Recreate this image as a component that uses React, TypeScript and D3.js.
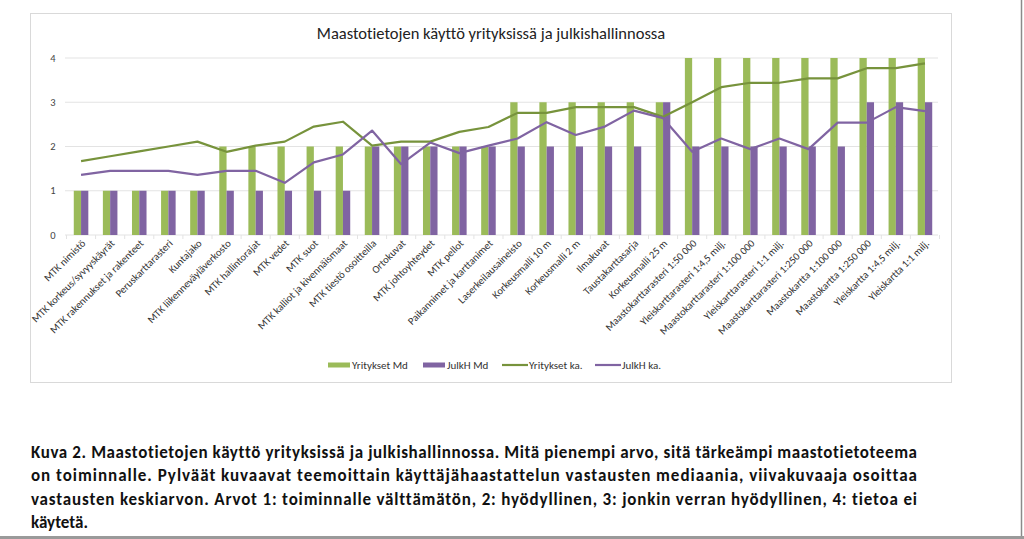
import React from "react";
import * as d3 from "d3";

const categories = [
  "MTK nimistö",
  "MTK korkeus/syvyyskäyrät",
  "MTK rakennukset ja rakenteet",
  "Peruskarttarasteri",
  "Kuntajako",
  "MTK liikenneväyläverkosto",
  "MTK hallintorajat",
  "MTK vedet",
  "MTK suot",
  "MTK kalliot ja kivennäismaat",
  "MTK tiestö osoitteilla",
  "Ortokuvat",
  "MTK johtoyhteydet",
  "MTK pellot",
  "Paikannimet ja karttanimet",
  "Laserkeilausaineisto",
  "Korkeusmalli 10 m",
  "Korkeusmalli 2 m",
  "Ilmakuvat",
  "Taustakarttasarja",
  "Korkeusmalli 25 m",
  "Maastokarttarasteri 1:50 000",
  "Yleiskarttarasteri 1:4,5 milj.",
  "Maastokarttarasteri 1:100 000",
  "Yleiskarttarasteri 1:1 milj.",
  "Maastokarttarasteri 1:250 000",
  "Maastokartta 1:100 000",
  "Maastokartta 1:250 000",
  "Yleiskartta 1:4,5 milj.",
  "Yleiskartta 1:1 milj.",
];

const yritMd = [1, 1, 1, 1, 1, 2, 2, 2, 2, 2, 2, 2, 2, 2, 2, 3, 3, 3, 3, 3, 3, 4, 4, 4, 4, 4, 4, 4, 4, 4];
const julkMd = [1, 1, 1, 1, 1, 1, 1, 1, 1, 1, 2, 2, 2, 2, 2, 2, 2, 2, 2, 2, 3, 2, 2, 2, 2, 2, 2, 3, 3, 3];
const yritKa = [1.67, 1.78, 1.89, 2.0, 2.11, 1.88, 2.02, 2.11, 2.45, 2.56, 2.02, 2.11, 2.11, 2.33, 2.44, 2.76, 2.76, 2.89, 2.89, 2.89, 2.67, 3.0, 3.34, 3.44, 3.44, 3.54, 3.54, 3.77, 3.77, 3.88];
const julkKa = [1.36, 1.45, 1.45, 1.45, 1.36, 1.45, 1.45, 1.18, 1.64, 1.82, 2.36, 1.6, 2.09, 1.85, 2.02, 2.18, 2.55, 2.26, 2.45, 2.81, 2.64, 1.88, 2.18, 1.94, 2.18, 1.94, 2.54, 2.54, 2.89, 2.8];

const yTicks = [0, 1, 2, 3, 4];
const title = "Maastotietojen käyttö yrityksissä ja julkishallinnossa";
const legendItems = [
  { label: "Yritykset Md", kind: "bar", color: "#9BBB59" },
  { label: "JulkH Md", kind: "bar", color: "#8064A2" },
  { label: "Yritykset ka.", kind: "line", color: "#77933C" },
  { label: "JulkH ka.", kind: "line", color: "#8064A2" },
];
const captionLines = [
  "Kuva 2. Maastotietojen käyttö yrityksissä ja julkishallinnossa. Mitä pienempi arvo, sitä tärkeämpi maastotietoteema",
  "on toiminnalle. Pylväät kuvaavat teemoittain käyttäjähaastattelun vastausten mediaania, viivakuvaaja osoittaa",
  "vastausten keskiarvon. Arvot 1: toiminnalle välttämätön, 2: hyödyllinen, 3: jonkin verran hyödyllinen, 4: tietoa ei",
  "käytetä.",
];

const GREEN = "#9BBB59";
const PURPLE = "#8064A2";
const GREEN_LINE = "#77933C";
const FONT = "Carlito, Calibri, 'Open Sans', 'Noto Sans', sans-serif";

export default function App() {
  const W = 1024;
  const H = 539;
  const x = d3.scaleBand<string>().domain(categories).range([66.5, 939.5]).paddingInner(0).paddingOuter(0);
  const bw = x.bandwidth();
  const sub = d3.scaleBand<string>().domain(["y", "j"]).range([bw * 0.25, bw * 0.75]).padding(0);
  const y = d3.scaleLinear().domain([0, 4]).range([235, 58]);
  const cx = (i: number) => (x(categories[i]) as number) + bw / 2;
  const line = d3
    .line<number>()
    .x((_, i) => cx(i))
    .y((d) => y(d));

  const legendX = [328, 423, 502, 595];

  return (
    <svg
      width={W}
      height={H}
      style={{ position: "absolute", left: 0, top: 0, background: "#fff", fontVariantLigatures: "none" }}
      fontFamily={FONT}
    >
      <rect x={0} y={0} width={W} height={H} fill="#fff" />
      {/* chart frame */}
      <rect x={30.5} y={13.5} width={921} height={369} fill="none" stroke="#D9D9D9" strokeWidth={1} />
      <text x={491} y={39} textAnchor="middle" fontSize={16.5} fill="#222">
        {title}
      </text>
      {/* gridlines */}
      {yTicks.map((t) => (
        <g key={t}>
          <line x1={65} x2={938} y1={y(t)} y2={y(t)} stroke="#E3E3E3" strokeWidth={1} />
          <text x={53} y={y(t) + 3.5} textAnchor="middle" fontSize={10.5} fill="#444">
            {t}
          </text>
        </g>
      ))}
      {/* x ticks */}
      {categories.map((c, i) => (
        <line key={"tk" + i} x1={x(c) as number} x2={x(c) as number} y1={235} y2={239} stroke="#E3E3E3" />
      ))}
      <line x1={939.5} x2={939.5} y1={235} y2={239} stroke="#E3E3E3" />
      {/* bars */}
      {categories.map((c, i) => (
        <g key={"b" + i}>
          <rect x={(x(c) as number) + (sub("y") as number)} y={y(yritMd[i])} width={sub.bandwidth()} height={y(0) - y(yritMd[i])} fill={GREEN} />
          <rect x={(x(c) as number) + (sub("j") as number)} y={y(julkMd[i])} width={sub.bandwidth()} height={y(0) - y(julkMd[i])} fill={PURPLE} />
        </g>
      ))}
      {/* lines */}
      <path d={line(yritKa) as string} fill="none" stroke={GREEN_LINE} strokeWidth={2.2} strokeLinejoin="round" />
      <path d={line(julkKa) as string} fill="none" stroke={PURPLE} strokeWidth={2.2} strokeLinejoin="round" />
      {/* x labels */}
      {categories.map((c, i) => (
        <text
          key={"l" + i}
          transform={`translate(${cx(i) + 5},${244}) rotate(-45)`}
          textAnchor="end"
          fontSize={10.5}
          fill="#333"
        >
          {c}
        </text>
      ))}
      {/* legend */}
      {legendItems.map((it, i) => (
        <g key={"lg" + i} transform={`translate(${legendX[i]},365)`}>
          {it.kind === "bar" ? (
            <rect x={0} y={-2.5} width={22} height={5} fill={it.color} />
          ) : (
            <line x1={0} x2={26} y1={0} y2={0} stroke={it.color} strokeWidth={2.2} />
          )}
          <text x={it.kind === "bar" ? 24 : 27} y={3.5} fontSize={11} fill="#333">
            {it.label}
          </text>
        </g>
      ))}
      {/* caption */}
      {captionLines.map((l, i) => (
        <text
          key={"c" + i}
          x={31}
          y={458 + i * 23.3}
          fontSize={17}
          fontWeight="bold"
          fill="#111"
          {...(i < 3 ? { textLength: 886, lengthAdjust: "spacing" } : {})}
        >
          {l}
        </text>
      ))}
      {/* page edges */}
      <line x1={1021.5} x2={1021.5} y1={0} y2={539} stroke="#8A8A8A" strokeWidth={1.5} />
      <rect x={0} y={536} width={1024} height={3} fill="#9A9A9A" />
    </svg>
  );
}
